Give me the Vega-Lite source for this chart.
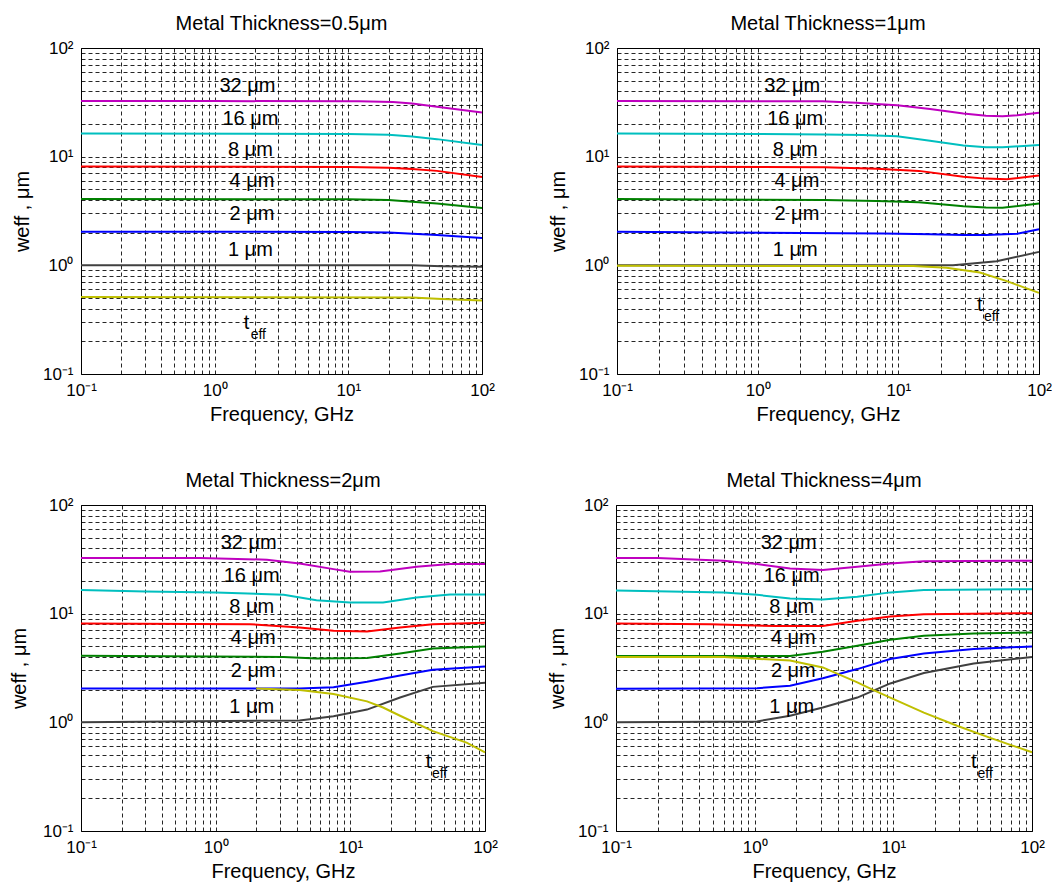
{
  "$schema": "https://vega.github.io/schema/vega-lite/v6.json",
  "padding": {"left": 8, "top": 13, "right": 0, "bottom": 0},
  "background": "white",
  "config": {
    "font": "Liberation Sans",
    "view": {"stroke": "black", "strokeWidth": 1},
    "title": {"fontSize": 20, "fontWeight": "normal", "color": "black", "anchor": "middle", "offset": 5, "font": "Liberation Sans"},
    "axis": {
      "grid": true, "gridColor": "black", "gridDash": [4, 3], "gridWidth": 1, "gridOpacity": 0.85,
      "ticks": false, "domain": false,
      "labelFont": "Liberation Sans", "labelFontSize": 17, "labelColor": "black",
      "labelFlush": false, "labelOverlap": false, "labelPadding": 8,
      "titleFont": "Liberation Sans", "titleFontSize": 20, "titleFontWeight": "normal", "titleColor": "black"
    },
    "axisX": {"titlePadding": 6},
    "axisY": {"titlePadding": 10}
  },
  "datasets": {
    "curves": [
      {"panel":"p1","series":"32","f":0.1,"w":32.5},{"panel":"p1","series":"32","f":1,"w":32.5},{"panel":"p1","series":"32","f":12,"w":32.3},{"panel":"p1","series":"32","f":21.6,"w":31.8},{"panel":"p1","series":"32","f":30,"w":30.9},{"panel":"p1","series":"32","f":46,"w":28.8},{"panel":"p1","series":"32","f":100,"w":25.5},
      {"panel":"p1","series":"16","f":0.1,"w":16.3},{"panel":"p1","series":"16","f":10,"w":16.2},{"panel":"p1","series":"16","f":20,"w":15.9},{"panel":"p1","series":"16","f":30,"w":15.3},{"panel":"p1","series":"16","f":46,"w":14.5},{"panel":"p1","series":"16","f":100,"w":12.8},
      {"panel":"p1","series":"8","f":0.1,"w":8.1},{"panel":"p1","series":"8","f":10,"w":8.05},{"panel":"p1","series":"8","f":20,"w":7.9},{"panel":"p1","series":"8","f":30,"w":7.7},{"panel":"p1","series":"8","f":46,"w":7.4},{"panel":"p1","series":"8","f":100,"w":6.5},
      {"panel":"p1","series":"4","f":0.1,"w":4.08},{"panel":"p1","series":"4","f":10,"w":4.05},{"panel":"p1","series":"4","f":20,"w":4.0},{"panel":"p1","series":"4","f":30,"w":3.85},{"panel":"p1","series":"4","f":46,"w":3.7},{"panel":"p1","series":"4","f":100,"w":3.37},
      {"panel":"p1","series":"2","f":0.1,"w":2.04},{"panel":"p1","series":"2","f":10,"w":2.03},{"panel":"p1","series":"2","f":20,"w":2.0},{"panel":"p1","series":"2","f":46,"w":1.9},{"panel":"p1","series":"2","f":100,"w":1.78},
      {"panel":"p1","series":"1","f":0.1,"w":1.0},{"panel":"p1","series":"1","f":30,"w":1.0},{"panel":"p1","series":"1","f":50,"w":0.98},{"panel":"p1","series":"1","f":100,"w":0.97},
      {"panel":"p1","series":"teff","f":0.1,"w":0.51},{"panel":"p1","series":"teff","f":30,"w":0.505},{"panel":"p1","series":"teff","f":50,"w":0.49},{"panel":"p1","series":"teff","f":100,"w":0.474},

      {"panel":"p2","series":"32","f":0.1,"w":32.5},{"panel":"p2","series":"32","f":2.9,"w":32.3},{"panel":"p2","series":"32","f":5,"w":31.3},{"panel":"p2","series":"32","f":9.8,"w":29.8},{"panel":"p2","series":"32","f":16.8,"w":27.4},{"panel":"p2","series":"32","f":29,"w":25.0},{"panel":"p2","series":"32","f":42,"w":23.8},{"panel":"p2","series":"32","f":55,"w":23.6},{"panel":"p2","series":"32","f":70,"w":24.1},{"panel":"p2","series":"32","f":100,"w":25.3},
      {"panel":"p2","series":"16","f":0.1,"w":16.3},{"panel":"p2","series":"16","f":1,"w":16.2},{"panel":"p2","series":"16","f":3,"w":16.0},{"panel":"p2","series":"16","f":5.6,"w":15.8},{"panel":"p2","series":"16","f":9.8,"w":15.4},{"panel":"p2","series":"16","f":16.8,"w":14.0},{"panel":"p2","series":"16","f":29,"w":12.7},{"panel":"p2","series":"16","f":42,"w":12.2},{"panel":"p2","series":"16","f":55,"w":12.2},{"panel":"p2","series":"16","f":100,"w":12.8},
      {"panel":"p2","series":"8","f":0.1,"w":8.1},{"panel":"p2","series":"8","f":3,"w":8.0},{"panel":"p2","series":"8","f":7,"w":7.76},{"panel":"p2","series":"8","f":14,"w":7.4},{"panel":"p2","series":"8","f":29,"w":6.55},{"panel":"p2","series":"8","f":42,"w":6.28},{"panel":"p2","series":"8","f":59,"w":6.2},{"panel":"p2","series":"8","f":100,"w":6.7},
      {"panel":"p2","series":"4","f":0.1,"w":4.08},{"panel":"p2","series":"4","f":3,"w":4.0},{"panel":"p2","series":"4","f":7,"w":3.9},{"panel":"p2","series":"4","f":14,"w":3.8},{"panel":"p2","series":"4","f":29,"w":3.5},{"panel":"p2","series":"4","f":42,"w":3.4},{"panel":"p2","series":"4","f":55,"w":3.38},{"panel":"p2","series":"4","f":100,"w":3.7},
      {"panel":"p2","series":"2","f":0.1,"w":2.04},{"panel":"p2","series":"2","f":7.8,"w":1.96},{"panel":"p2","series":"2","f":16.8,"w":1.93},{"panel":"p2","series":"2","f":29,"w":1.9},{"panel":"p2","series":"2","f":42,"w":1.9},{"panel":"p2","series":"2","f":70,"w":1.95},{"panel":"p2","series":"2","f":100,"w":2.15},
      {"panel":"p2","series":"1","f":0.1,"w":1.0},{"panel":"p2","series":"1","f":24.5,"w":1.0},{"panel":"p2","series":"1","f":50,"w":1.09},{"panel":"p2","series":"1","f":100,"w":1.33},
      {"panel":"p2","series":"teff","f":0.1,"w":0.99},{"panel":"p2","series":"teff","f":12.8,"w":0.985},{"panel":"p2","series":"teff","f":22,"w":0.95},{"panel":"p2","series":"teff","f":38,"w":0.86},{"panel":"p2","series":"teff","f":59,"w":0.715},{"panel":"p2","series":"teff","f":100,"w":0.558},

      {"panel":"p3","series":"32","f":0.1,"w":32.5},{"panel":"p3","series":"32","f":0.77,"w":32.5},{"panel":"p3","series":"32","f":2.4,"w":31.4},{"panel":"p3","series":"32","f":4.2,"w":29.0},{"panel":"p3","series":"32","f":7.5,"w":25.7},{"panel":"p3","series":"32","f":9.9,"w":24.3},{"panel":"p3","series":"32","f":16.6,"w":24.4},{"panel":"p3","series":"32","f":31,"w":27.0},{"panel":"p3","series":"32","f":55,"w":28.6},{"panel":"p3","series":"32","f":100,"w":28.6},
      {"panel":"p3","series":"16","f":0.1,"w":16.5},{"panel":"p3","series":"16","f":0.3,"w":16.0},{"panel":"p3","series":"16","f":1,"w":15.7},{"panel":"p3","series":"16","f":3.2,"w":14.9},{"panel":"p3","series":"16","f":5.6,"w":13.3},{"panel":"p3","series":"16","f":9.9,"w":12.7},{"panel":"p3","series":"16","f":17.5,"w":12.7},{"panel":"p3","series":"16","f":31,"w":14.1},{"panel":"p3","series":"16","f":55,"w":15.0},{"panel":"p3","series":"16","f":100,"w":15.0},
      {"panel":"p3","series":"8","f":0.1,"w":8.1},{"panel":"p3","series":"8","f":1.8,"w":8.0},{"panel":"p3","series":"8","f":4.2,"w":7.46},{"panel":"p3","series":"8","f":7.5,"w":6.96},{"panel":"p3","series":"8","f":13.3,"w":6.86},{"panel":"p3","series":"8","f":23.4,"w":7.46},{"panel":"p3","series":"8","f":41,"w":8.0},{"panel":"p3","series":"8","f":100,"w":8.24},
      {"panel":"p3","series":"4","f":0.1,"w":4.1},{"panel":"p3","series":"4","f":3.2,"w":4.0},{"panel":"p3","series":"4","f":5.6,"w":3.87},{"panel":"p3","series":"4","f":13.3,"w":3.9},{"panel":"p3","series":"4","f":23.4,"w":4.3},{"panel":"p3","series":"4","f":41,"w":4.79},{"panel":"p3","series":"4","f":100,"w":4.99},
      {"panel":"p3","series":"2","f":0.1,"w":2.05},{"panel":"p3","series":"2","f":4.2,"w":2.05},{"panel":"p3","series":"2","f":7.5,"w":2.1},{"panel":"p3","series":"2","f":13.3,"w":2.36},{"panel":"p3","series":"2","f":23.4,"w":2.7},{"panel":"p3","series":"2","f":41,"w":3.04},{"panel":"p3","series":"2","f":100,"w":3.27},
      {"panel":"p3","series":"1","f":0.1,"w":1.0},{"panel":"p3","series":"1","f":4.2,"w":1.04},{"panel":"p3","series":"1","f":7.5,"w":1.14},{"panel":"p3","series":"1","f":13.3,"w":1.31},{"panel":"p3","series":"1","f":23.4,"w":1.69},{"panel":"p3","series":"1","f":41,"w":2.12},{"panel":"p3","series":"1","f":100,"w":2.31},
      {"panel":"p3","series":"teff","f":2.0,"w":2.05},{"panel":"p3","series":"teff","f":4.2,"w":1.98},{"panel":"p3","series":"teff","f":7.5,"w":1.82},{"panel":"p3","series":"teff","f":13.3,"w":1.56},{"panel":"p3","series":"teff","f":17.5,"w":1.37},{"panel":"p3","series":"teff","f":23.4,"w":1.15},{"panel":"p3","series":"teff","f":41,"w":0.83},{"panel":"p3","series":"teff","f":73,"w":0.65},{"panel":"p3","series":"teff","f":100,"w":0.53},

      {"panel":"p4","series":"32","f":0.1,"w":32.5},{"panel":"p4","series":"32","f":0.2,"w":32.5},{"panel":"p4","series":"32","f":0.6,"w":30.7},{"panel":"p4","series":"32","f":1.04,"w":28.6},{"panel":"p4","series":"32","f":1.8,"w":26.1},{"panel":"p4","series":"32","f":3.1,"w":25.2},{"panel":"p4","series":"32","f":5.5,"w":27.0},{"panel":"p4","series":"32","f":9.5,"w":29.0},{"panel":"p4","series":"32","f":16.6,"w":30.3},{"panel":"p4","series":"32","f":100,"w":30.7},
      {"panel":"p4","series":"16","f":0.1,"w":16.3},{"panel":"p4","series":"16","f":0.6,"w":15.7},{"panel":"p4","series":"16","f":1.04,"w":14.9},{"panel":"p4","series":"16","f":1.8,"w":13.8},{"panel":"p4","series":"16","f":3.1,"w":13.5},{"panel":"p4","series":"16","f":5.5,"w":14.3},{"panel":"p4","series":"16","f":9.5,"w":15.7},{"panel":"p4","series":"16","f":16.6,"w":16.5},{"panel":"p4","series":"16","f":100,"w":16.8},
      {"panel":"p4","series":"8","f":0.1,"w":8.1},{"panel":"p4","series":"8","f":0.48,"w":8.0},{"panel":"p4","series":"8","f":1.4,"w":7.68},{"panel":"p4","series":"8","f":3.1,"w":7.7},{"panel":"p4","series":"8","f":5.5,"w":8.6},{"panel":"p4","series":"8","f":9.5,"w":9.4},{"panel":"p4","series":"8","f":16.6,"w":9.9},{"panel":"p4","series":"8","f":100,"w":10.1},
      {"panel":"p4","series":"4","f":0.1,"w":4.08},{"panel":"p4","series":"4","f":1.8,"w":4.08},{"panel":"p4","series":"4","f":3.1,"w":4.46},{"panel":"p4","series":"4","f":5.5,"w":5.06},{"panel":"p4","series":"4","f":9.5,"w":5.75},{"panel":"p4","series":"4","f":16.6,"w":6.26},{"panel":"p4","series":"4","f":38,"w":6.57},{"panel":"p4","series":"4","f":100,"w":6.72},
      {"panel":"p4","series":"2","f":0.1,"w":2.04},{"panel":"p4","series":"2","f":1.04,"w":2.06},{"panel":"p4","series":"2","f":1.8,"w":2.17},{"panel":"p4","series":"2","f":3.1,"w":2.55},{"panel":"p4","series":"2","f":5.5,"w":3.09},{"panel":"p4","series":"2","f":9.5,"w":3.82},{"panel":"p4","series":"2","f":16.6,"w":4.3},{"panel":"p4","series":"2","f":38,"w":4.72},{"panel":"p4","series":"2","f":100,"w":4.99},
      {"panel":"p4","series":"1","f":0.1,"w":1.0},{"panel":"p4","series":"1","f":1.04,"w":1.02},{"panel":"p4","series":"1","f":1.8,"w":1.15},{"panel":"p4","series":"1","f":3.1,"w":1.37},{"panel":"p4","series":"1","f":5.5,"w":1.69},{"panel":"p4","series":"1","f":9.5,"w":2.28},{"panel":"p4","series":"1","f":16.6,"w":2.84},{"panel":"p4","series":"1","f":38,"w":3.48},{"panel":"p4","series":"1","f":100,"w":4.0},
      {"panel":"p4","series":"teff","f":0.1,"w":4.0},{"panel":"p4","series":"teff","f":0.6,"w":4.0},{"panel":"p4","series":"teff","f":1.8,"w":3.7},{"panel":"p4","series":"teff","f":3.1,"w":3.2},{"panel":"p4","series":"teff","f":5.5,"w":2.33},{"panel":"p4","series":"teff","f":7.2,"w":1.98},{"panel":"p4","series":"teff","f":9.5,"w":1.69},{"panel":"p4","series":"teff","f":16.6,"w":1.23},{"panel":"p4","series":"teff","f":28.8,"w":0.93},{"panel":"p4","series":"teff","f":50,"w":0.72},{"panel":"p4","series":"teff","f":100,"w":0.53}
    ],
    "labels": [
      {"panel":"all","kind":"main","label":"32 μm","f":1.76,"w":45},
      {"panel":"all","kind":"main","label":"16 μm","f":1.85,"w":22.2},
      {"panel":"all","kind":"main","label":"8 μm","f":1.85,"w":11.5},
      {"panel":"all","kind":"main","label":"4 μm","f":1.9,"w":5.97},
      {"panel":"all","kind":"main","label":"2 μm","f":1.9,"w":2.94},
      {"panel":"all","kind":"main","label":"1 μm","f":1.85,"w":1.37},
      {"panel":"p1","kind":"main","label":"t","f":1.73,"w":0.295},
      {"panel":"p1","kind":"sub","label":"eff","f":2.12,"w":0.23},
      {"panel":"p2","kind":"main","label":"t","f":38,"w":0.43},
      {"panel":"p2","kind":"sub","label":"eff","f":46,"w":0.335},
      {"panel":"p3","kind":"main","label":"t","f":38,"w":0.43},
      {"panel":"p3","kind":"sub","label":"eff","f":46,"w":0.335},
      {"panel":"p4","kind":"main","label":"t","f":38,"w":0.43},
      {"panel":"p4","kind":"sub","label":"eff","f":46,"w":0.335}
    ]
  },
  "spacing": 45,
  "vconcat": [
    {
      "spacing": 52,
      "hconcat": [
        {
          "title": "Metal Thickness=0.5μm",
          "width": 401, "height": 326,
          "encoding": {
            "x": {"field": "f", "type": "quantitative", "scale": {"type": "log", "domain": [0.1, 100], "nice": false},
                  "axis": {"title": "Frequency, GHz", "values": [0.1,0.2,0.3,0.4,0.5,0.6,0.7,0.8,0.9,1,2,3,4,5,6,7,8,9,10,20,30,40,50,60,70,80,90,100],
                           "labelExpr": "datum.value == 0.1 ? '10⁻¹' : datum.value == 1 ? '10⁰' : datum.value == 10 ? '10¹' : datum.value == 100 ? '10²' : ''"}},
            "y": {"field": "w", "type": "quantitative", "scale": {"type": "log", "domain": [0.1, 100], "nice": false},
                  "axis": {"title": "weff , μm", "values": [0.1,0.2,0.3,0.4,0.5,0.6,0.7,0.8,0.9,1,2,3,4,5,6,7,8,9,10,20,30,40,50,60,70,80,90,100],
                           "labelExpr": "datum.value == 0.1 ? '10⁻¹' : datum.value == 1 ? '10⁰' : datum.value == 10 ? '10¹' : datum.value == 100 ? '10²' : ''"}}
          },
          "layer": [
            {"data": {"name": "curves"}, "transform": [{"filter": "datum.panel == 'p1'"}],
             "mark": {"type": "line", "strokeWidth": 2},
             "encoding": {"color": {"field": "series", "type": "nominal", "legend": null,
               "scale": {"domain": ["32","16","8","4","2","1","teff"], "range": ["#BF00BF","#00BFBF","#FF0000","#008000","#0000FF","#404040","#BFBF00"]}}}},
            {"data": {"name": "labels"}, "transform": [{"filter": "(datum.panel == 'all' || datum.panel == 'p1') && datum.kind == 'main'"}],
             "mark": {"type": "text", "fontSize": 20, "align": "center", "baseline": "middle", "color": "black"},
             "encoding": {"text": {"field": "label", "type": "nominal"}}},
            {"data": {"name": "labels"}, "transform": [{"filter": "datum.panel == 'p1' && datum.kind == 'sub'"}],
             "mark": {"type": "text", "fontSize": 14, "align": "center", "baseline": "middle", "color": "black"},
             "encoding": {"text": {"field": "label", "type": "nominal"}}}
          ]
        },
        {
          "title": "Metal Thickness=1μm",
          "width": 422, "height": 326,
          "encoding": {
            "x": {"field": "f", "type": "quantitative", "scale": {"type": "log", "domain": [0.1, 100], "nice": false},
                  "axis": {"title": "Frequency, GHz", "values": [0.1,0.2,0.3,0.4,0.5,0.6,0.7,0.8,0.9,1,2,3,4,5,6,7,8,9,10,20,30,40,50,60,70,80,90,100],
                           "labelExpr": "datum.value == 0.1 ? '10⁻¹' : datum.value == 1 ? '10⁰' : datum.value == 10 ? '10¹' : datum.value == 100 ? '10²' : ''"}},
            "y": {"field": "w", "type": "quantitative", "scale": {"type": "log", "domain": [0.1, 100], "nice": false},
                  "axis": {"title": "weff , μm", "values": [0.1,0.2,0.3,0.4,0.5,0.6,0.7,0.8,0.9,1,2,3,4,5,6,7,8,9,10,20,30,40,50,60,70,80,90,100],
                           "labelExpr": "datum.value == 0.1 ? '10⁻¹' : datum.value == 1 ? '10⁰' : datum.value == 10 ? '10¹' : datum.value == 100 ? '10²' : ''"}}
          },
          "layer": [
            {"data": {"name": "curves"}, "transform": [{"filter": "datum.panel == 'p2'"}],
             "mark": {"type": "line", "strokeWidth": 2},
             "encoding": {"color": {"field": "series", "type": "nominal", "legend": null,
               "scale": {"domain": ["32","16","8","4","2","1","teff"], "range": ["#BF00BF","#00BFBF","#FF0000","#008000","#0000FF","#404040","#BFBF00"]}}}},
            {"data": {"name": "labels"}, "transform": [{"filter": "(datum.panel == 'all' || datum.panel == 'p2') && datum.kind == 'main'"}],
             "mark": {"type": "text", "fontSize": 20, "align": "center", "baseline": "middle", "color": "black"},
             "encoding": {"text": {"field": "label", "type": "nominal"}}},
            {"data": {"name": "labels"}, "transform": [{"filter": "datum.panel == 'p2' && datum.kind == 'sub'"}],
             "mark": {"type": "text", "fontSize": 14, "align": "center", "baseline": "middle", "color": "black"},
             "encoding": {"text": {"field": "label", "type": "nominal"}}}
          ]
        }
      ]
    },
    {
      "spacing": 48,
      "hconcat": [
        {
          "title": "Metal Thickness=2μm",
          "width": 404, "height": 326,
          "encoding": {
            "x": {"field": "f", "type": "quantitative", "scale": {"type": "log", "domain": [0.1, 100], "nice": false},
                  "axis": {"title": "Frequency, GHz", "values": [0.1,0.2,0.3,0.4,0.5,0.6,0.7,0.8,0.9,1,2,3,4,5,6,7,8,9,10,20,30,40,50,60,70,80,90,100],
                           "labelExpr": "datum.value == 0.1 ? '10⁻¹' : datum.value == 1 ? '10⁰' : datum.value == 10 ? '10¹' : datum.value == 100 ? '10²' : ''"}},
            "y": {"field": "w", "type": "quantitative", "scale": {"type": "log", "domain": [0.1, 100], "nice": false},
                  "axis": {"title": "weff , μm", "titlePadding": 13, "values": [0.1,0.2,0.3,0.4,0.5,0.6,0.7,0.8,0.9,1,2,3,4,5,6,7,8,9,10,20,30,40,50,60,70,80,90,100],
                           "labelExpr": "datum.value == 0.1 ? '10⁻¹' : datum.value == 1 ? '10⁰' : datum.value == 10 ? '10¹' : datum.value == 100 ? '10²' : ''"}}
          },
          "layer": [
            {"data": {"name": "curves"}, "transform": [{"filter": "datum.panel == 'p3'"}],
             "mark": {"type": "line", "strokeWidth": 2},
             "encoding": {"color": {"field": "series", "type": "nominal", "legend": null,
               "scale": {"domain": ["32","16","8","4","2","1","teff"], "range": ["#BF00BF","#00BFBF","#FF0000","#008000","#0000FF","#404040","#BFBF00"]}}}},
            {"data": {"name": "labels"}, "transform": [{"filter": "(datum.panel == 'all' || datum.panel == 'p3') && datum.kind == 'main'"}],
             "mark": {"type": "text", "fontSize": 20, "align": "center", "baseline": "middle", "color": "black"},
             "encoding": {"text": {"field": "label", "type": "nominal"}}},
            {"data": {"name": "labels"}, "transform": [{"filter": "datum.panel == 'p3' && datum.kind == 'sub'"}],
             "mark": {"type": "text", "fontSize": 14, "align": "center", "baseline": "middle", "color": "black"},
             "encoding": {"text": {"field": "label", "type": "nominal"}}}
          ]
        },
        {
          "title": "Metal Thickness=4μm",
          "width": 416, "height": 326,
          "encoding": {
            "x": {"field": "f", "type": "quantitative", "scale": {"type": "log", "domain": [0.1, 100], "nice": false},
                  "axis": {"title": "Frequency, GHz", "values": [0.1,0.2,0.3,0.4,0.5,0.6,0.7,0.8,0.9,1,2,3,4,5,6,7,8,9,10,20,30,40,50,60,70,80,90,100],
                           "labelExpr": "datum.value == 0.1 ? '10⁻¹' : datum.value == 1 ? '10⁰' : datum.value == 10 ? '10¹' : datum.value == 100 ? '10²' : ''"}},
            "y": {"field": "w", "type": "quantitative", "scale": {"type": "log", "domain": [0.1, 100], "nice": false},
                  "axis": {"title": "weff , μm", "values": [0.1,0.2,0.3,0.4,0.5,0.6,0.7,0.8,0.9,1,2,3,4,5,6,7,8,9,10,20,30,40,50,60,70,80,90,100],
                           "labelExpr": "datum.value == 0.1 ? '10⁻¹' : datum.value == 1 ? '10⁰' : datum.value == 10 ? '10¹' : datum.value == 100 ? '10²' : ''"}}
          },
          "layer": [
            {"data": {"name": "curves"}, "transform": [{"filter": "datum.panel == 'p4'"}],
             "mark": {"type": "line", "strokeWidth": 2},
             "encoding": {"color": {"field": "series", "type": "nominal", "legend": null,
               "scale": {"domain": ["32","16","8","4","2","1","teff"], "range": ["#BF00BF","#00BFBF","#FF0000","#008000","#0000FF","#404040","#BFBF00"]}}}},
            {"data": {"name": "labels"}, "transform": [{"filter": "(datum.panel == 'all' || datum.panel == 'p4') && datum.kind == 'main'"}],
             "mark": {"type": "text", "fontSize": 20, "align": "center", "baseline": "middle", "color": "black"},
             "encoding": {"text": {"field": "label", "type": "nominal"}}},
            {"data": {"name": "labels"}, "transform": [{"filter": "datum.panel == 'p4' && datum.kind == 'sub'"}],
             "mark": {"type": "text", "fontSize": 14, "align": "center", "baseline": "middle", "color": "black"},
             "encoding": {"text": {"field": "label", "type": "nominal"}}}
          ]
        }
      ]
    }
  ]
}
